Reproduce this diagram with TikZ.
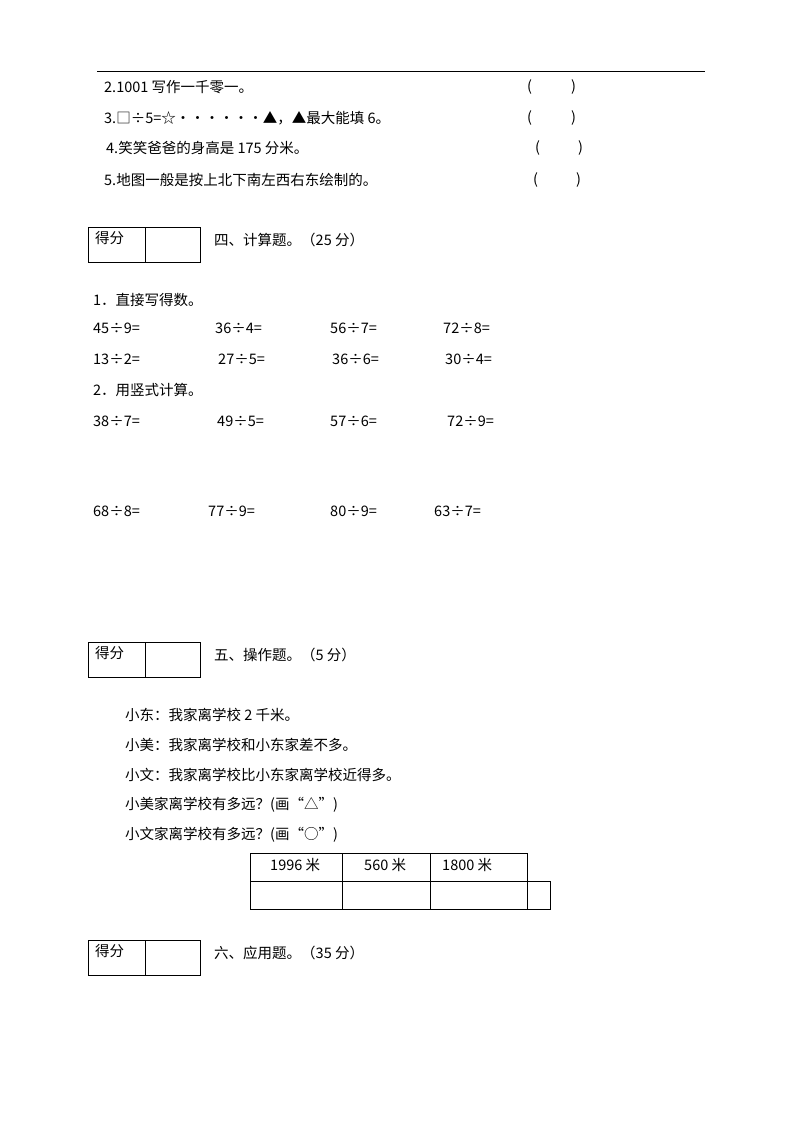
\documentclass[tikz,border=0pt]{standalone}
\usepackage{fontspec}
\setmainfont{Noto Sans CJK SC}
\begin{document}
\begin{tikzpicture}[x=1pt,y=-1pt,
  t/.style={anchor=west,inner sep=0pt,font=\fontsize{14.5}{16}\selectfont},
  box/.style={draw,line width=0.8pt}]
\useasboundingbox (0,0) rectangle (800,1132);
\draw[line width=1pt] (97,72) -- (705,72);
\node[t] (a2) at (104,87) {2.1001 写作一千零一。};
\node[t] (a3) at (104,118) {3.□÷5=☆・・・・・・▲，▲最大能填 6。};
\node[t] (a4) at (106,148) {4.笑笑爸爸的身高是 175 分米。};
\node[t] (a5) at (104,180) {5.地图一般是按上北下南左西右东绘制的。};
\foreach \y/\l/\r in {87/527/571,118/527/571,148/535/578,180/533/576}{
  \node[t] at (\l,\y) {(}; \node[t] at (\r,\y) {)};}
% score boxes
\foreach \y/\title in {227/四、计算题。（25 分）,642/五、操作题。（5 分）,940/六、应用题。（35 分）}{
  \draw[box] (88,\y) rectangle (200,\y+35); \draw[box] (145,\y) -- (145,\y+35);
  \node[t] at (95,\y+11) {得分};
  \node[t] at (214,\y+13) {\title};}
\node[t] (s1) at (93,300) {1．直接写得数。};
\node[t] at (93,328) {45÷9=}; \node[t] at (215,328) {36÷4=};
\node[t] at (330,328) {56÷7=}; \node[t] at (443,328) {72÷8=};
\node[t] at (93,359) {13÷2=}; \node[t] at (218,359) {27÷5=};
\node[t] at (332,359) {36÷6=}; \node[t] at (445,359) {30÷4=};
\node[t] (s2) at (93,390) {2．用竖式计算。};
\node[t] at (93,421) {38÷7=}; \node[t] at (217,421) {49÷5=};
\node[t] at (330,421) {57÷6=}; \node[t] at (447,421) {72÷9=};
\node[t] at (93,511) {68÷8=}; \node[t] at (208,511) {77÷9=};
\node[t] at (330,511) {80÷9=}; \node[t] at (434,511) {63÷7=};
\node[t] at (125,715) {小东：我家离学校 2 千米。};
\node[t] at (125,745) {小美：我家离学校和小东家差不多。};
\node[t] at (125,775) {小文：我家离学校比小东家离学校近得多。};
\node[t] at (125,805) {小美家离学校有多远？(画“△”)};
\node[t] at (125,835) {小文家离学校有多远？(画“○”)};
% table
\draw[box] (250,853) rectangle (527,881);
\draw[box] (250,881) rectangle (550,909);
\foreach \x in {342,430}{\draw[box] (\x,853) -- (\x,909);}
\draw[box] (527,881) -- (527,909);
\node[t] at (270,865) {1996 米};
\node[t] at (364,865) {560 米};
\node[t] at (442,865) {1800 米};
\end{tikzpicture}
\end{document}
